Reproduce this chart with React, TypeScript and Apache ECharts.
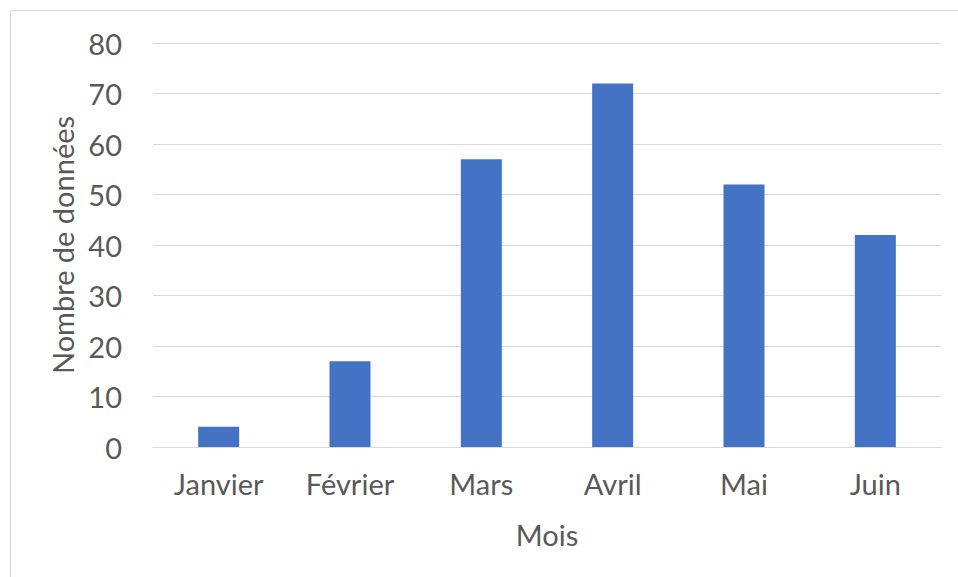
import React, { useEffect, useRef } from "react";
import * as echarts from "echarts";

const categories = ["Janvier", "Février", "Mars", "Avril", "Mai", "Juin"];
const values = [4, 17, 57, 72, 52, 42];
const xAxisTitle = "Mois";
const yAxisTitle = "Nombre de données";

export default function App() {
  const ref = useRef<HTMLDivElement>(null);
  useEffect(() => {
    if (!ref.current) return;
    const chart = echarts.init(ref.current, null, { renderer: "svg" });
    const font = "Lato";
    const textColor = "#595959";
    chart.setOption({
      animation: false,
      backgroundColor: "#ffffff",
      textStyle: { fontFamily: font },
      graphic: [
        {
          type: "rect",
          shape: { x: 10.5, y: 10.5, width: 1000, height: 1000 },
          style: { fill: "none", stroke: "#d9d9d9", lineWidth: 1 },
          silent: true,
        },
      ],
      grid: { left: 153, right: 17, top: 43, bottom: 130 },
      xAxis: {
        type: "category",
        data: categories,
        name: xAxisTitle,
        nameLocation: "middle",
        nameGap: 73,
        nameTextStyle: { fontFamily: font, fontSize: 29, color: textColor },
        axisLine: { show: true, lineStyle: { color: "#d9d9d9", width: 1 } },
        axisTick: { show: false },
        axisLabel: { fontFamily: font, fontSize: 29, color: textColor, margin: 22 },
      },
      yAxis: {
        type: "value",
        min: 0,
        max: 80,
        interval: 10,
        name: yAxisTitle,
        nameLocation: "middle",
        nameGap: 75,
        nameRotate: 90,
        nameTextStyle: { fontFamily: font, fontSize: 29, color: textColor },
        axisLine: { show: false },
        axisTick: { show: false },
        axisLabel: { fontFamily: font, fontSize: 29, color: textColor, margin: 31 },
        splitLine: { lineStyle: { color: "#d9d9d9", width: 1 } },
      },
      series: [
        {
          type: "bar",
          data: values,
          barWidth: 41,
          itemStyle: { color: "#4472C4" },
        },
      ],
    });
    return () => chart.dispose();
  }, []);
  return (
    <div
      ref={ref}
      style={{ position: "fixed", left: 0, top: 0, width: 958, height: 577 }}
    />
  );
}
